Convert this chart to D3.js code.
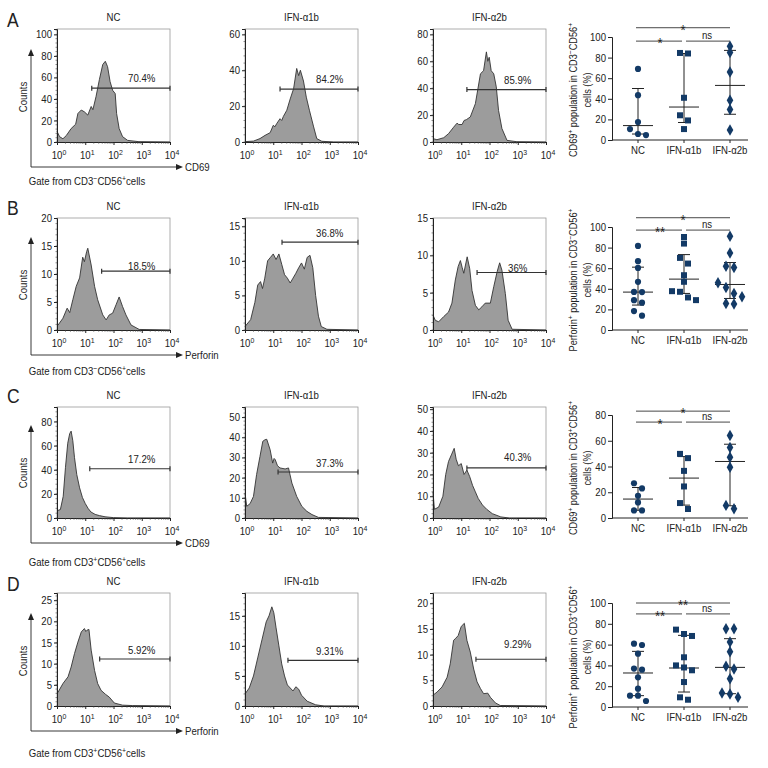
<!DOCTYPE html>
<html>
<head>
<meta charset="utf-8">
<script src="https://cdn.jsdelivr.net/npm/d3@7"></script>
<style>
  body { margin: 0; background: #fff; }
  svg text { fill: #222; }
</style>
</head>
<body>
<svg id="fig" width="768" height="768"></svg>
<script>
// ---- data ----
var rowLetters = ['A', 'B', 'C', 'D'];
var groups = ['NC', 'IFN-α1b', 'IFN-α2b'];
var markerNames = ['CD69', 'Perforin', 'CD69', 'Perforin'];
var gateTexts = ['Gate from CD3{−}CD56{+}cells', 'Gate from CD3{−}CD56{+}cells',
                 'Gate from CD3{+}CD56{+}cells', 'Gate from CD3{+}CD56{+}cells'];
var scatterLabels = ['CD69{+} population in CD3{−}CD56{+}', 'Perforin{+} population in CD3{−}CD56{+}',
                     'CD69{+} population in CD3{+}CD56{+}', 'Perforin{+} population in CD3{+}CD56{+}'];

// histograms: [log10 intensity, counts]
var histA_NC = [[0,10],[0.09,5],[0.21,3],[0.33,6],[0.5,12.5],[0.66,16.5],[0.74,26.5],[0.86,29.7],[0.97,28],[1.09,25],[1.21,33],[1.27,30],[1.38,42],[1.5,58],[1.62,72],[1.71,75],[1.79,70],[1.88,56],[1.97,48],[2.06,45],[2.11,26.5],[2.2,12.5],[2.32,5],[2.5,1.5],[2.9,0.3],[4,0]];
var histA_a1b = [[0,0.2],[0.3,0.5],[0.53,1.9],[0.71,3.7],[0.89,5.2],[1.0,9.3],[1.06,8.5],[1.12,10.2],[1.24,13],[1.3,12],[1.36,14.3],[1.48,17.7],[1.6,24],[1.72,29.7],[1.83,41],[1.9,37],[1.96,40],[2.07,34],[2.17,25],[2.28,17.7],[2.43,8.4],[2.54,1.9],[2.72,0.4],[3.14,0],[4,0]];
var histA_a2b = [[0,2.5],[0.14,1.7],[0.38,3.2],[0.55,6.2],[0.73,11],[0.85,14],[0.91,13],[1.03,13],[1.1,16],[1.18,16.6],[1.32,18.6],[1.5,28.5],[1.68,50.7],[1.79,53],[1.89,67],[1.94,60],[1.99,63],[2.06,53],[2.15,50.7],[2.24,41],[2.32,23.5],[2.44,10],[2.62,1.2],[2.97,0.2],[4,0]];
var histB_NC = [[0,0.9],[0.04,0.9],[0.21,2.1],[0.36,3.9],[0.45,3.1],[0.56,5.4],[0.68,7.8],[0.8,9.3],[0.91,13],[0.97,12.2],[1.05,14],[1.09,14.6],[1.21,11.6],[1.33,7.8],[1.44,5.4],[1.62,2.7],[1.74,1.8],[1.85,2.7],[1.97,3],[2.09,4.5],[2.2,5.9],[2.32,4.2],[2.44,2.7],[2.62,0.9],[2.91,0.1],[4,0]];
var histB_a1b = [[0,0.5],[0.2,1.5],[0.35,4],[0.45,6.5],[0.55,7],[0.62,6],[0.7,7.5],[0.8,10],[0.9,10.5],[1.0,11],[1.1,10.2],[1.2,11],[1.3,9.5],[1.4,8],[1.5,7.5],[1.6,6.8],[1.7,7.5],[1.8,8.2],[1.9,9],[2.0,9.7],[2.1,8.8],[2.2,10.5],[2.3,10.8],[2.4,9],[2.5,5],[2.6,2],[2.7,0.5],[2.9,0.1],[4,0]];
var histB_a2b = [[0,2],[0.08,1.3],[0.2,1.1],[0.38,1.8],[0.55,2.4],[0.67,3.6],[0.79,6.7],[0.89,8.5],[0.97,9.3],[1.03,8.4],[1.09,7.6],[1.21,9.8],[1.3,8.2],[1.38,5.3],[1.5,3.3],[1.62,2.7],[1.73,3.1],[1.85,3.6],[2.03,3.6],[2.15,5.8],[2.27,7.8],[2.36,9],[2.44,8],[2.56,4.9],[2.66,1.3],[2.8,0.1],[4,0]];
var histC_NC = [[0,6],[0.12,7],[0.22,18],[0.3,42],[0.38,62],[0.45,70],[0.5,72],[0.56,64],[0.62,50],[0.7,36],[0.8,25],[0.9,17],[1.0,12],[1.1,8],[1.2,5],[1.35,3],[1.5,2],[1.7,1],[2.0,0.3],[2.5,0],[4,0]];
var histC_a1b = [[0,12.4],[0.06,5.8],[0.18,7.1],[0.3,10.7],[0.41,21.5],[0.53,30.5],[0.63,38],[0.71,38.8],[0.77,39],[0.89,33.8],[0.98,27.2],[1.03,29.5],[1.07,28.9],[1.15,25.9],[1.24,24.8],[1.42,24.3],[1.54,24.8],[1.66,17.3],[1.83,10.7],[2.01,5.8],[2.19,3.3],[2.37,1.7],[2.6,0.3],[4,0]];
var histC_a2b = [[0,12],[0.05,4],[0.2,5],[0.35,10],[0.45,20],[0.55,26],[0.65,29],[0.75,32],[0.82,27],[0.9,24],[1.0,25],[1.1,20],[1.2,22],[1.3,19],[1.4,15],[1.5,12],[1.6,9],[1.75,6],[1.9,4],[2.1,2],[2.4,0.5],[2.7,0],[4,0]];
var histD_NC = [[0,3],[0.04,3.3],[0.21,5.3],[0.39,6.9],[0.5,9.2],[0.62,12.4],[0.74,15.1],[0.86,17.5],[0.97,18.3],[1.02,17.6],[1.06,17.9],[1.13,18.1],[1.21,13.2],[1.33,8.4],[1.44,5.3],[1.56,3.7],[1.71,2.8],[1.85,2.1],[2.03,0.7],[2.32,0.2],[2.67,0.1],[4,0]];
var histD_a1b = [[0,2],[0.15,3],[0.3,5],[0.45,8],[0.6,11],[0.75,14],[0.85,15],[0.95,16.5],[1.02,15.5],[1.1,13],[1.2,10],[1.3,7],[1.4,5],[1.5,3.5],[1.6,3],[1.7,2.5],[1.8,3.2],[1.9,2.8],[2.0,1.8],[2.2,0.8],[2.5,0.2],[2.8,0],[4,0]];
var histD_a2b = [[0,2.1],[0.14,2.7],[0.32,3.7],[0.5,5.6],[0.61,8.2],[0.73,12.8],[0.79,13.1],[0.89,13.7],[1.0,15.5],[1.11,16.1],[1.2,12.8],[1.32,10.5],[1.44,7.2],[1.56,4.7],[1.68,3.4],[1.79,2.4],[1.94,2.5],[2.03,1.7],[2.21,0.6],[2.38,0.1],[4,0]];

var histYMax = [[105, 63, 84], [20, 16.2, 15], [92, 55, 51], [26.7, 18.8, 22]];
var histYStep = [[20, 20, 20], [5, 5, 5], [20, 10, 10], [5, 5, 5]];
var gateStart = [[1.23, 1.24, 1.2], [1.58, 1.31, 1.56], [1.16, 1.17, 1.2], [1.51, 1.52, 1.52]];
var gateLevel = [[50, 29.5, 39], [10.5, 12.7, 7.7], [40.8, 22.8, 23], [11.1, 7.6, 9.1]];
var gatePct = [['70.4%', '84.2%', '85.9%'], ['18.5%', '36.8%', '36%'],
               ['17.2%', '37.3%', '40.3%'], ['5.92%', '9.31%', '9.29%']];

// scatter plots: values per group, median and interquartile bars
var scatA = [[69, 43.5, 17.4, 10.6, 5.8, 4.8], [84.5, 84, 41, 24, 19, 10.6], [91, 85, 66, 38.7, 29.7, 9.7]];
var medA = [14, 32, 53], loA = [5.8, 17, 25], hiA = [50, 84, 87];
var scatB = [[81.6, 66.8, 60.3, 46.8, 37, 36.8, 29, 26.5, 18.4, 13.9],
             [90.3, 83.9, 70, 64.5, 53.2, 46.8, 37.7, 37.1, 31.6, 29],
             [91, 74.8, 62, 60.6, 45.8, 41.3, 35.5, 32.3, 25.8, 25.2]];
var medB = [36.8, 49.4, 44.2], loB = [24.2, 35.5, 30.6], hiB = [61, 73.2, 65.5];
var scatC = [[27, 23, 17.3, 12.1, 5.9, 5.9], [49.8, 46.5, 36.6, 24.5, 11.6, 7], [64, 54.7, 47.2, 39.5, 9.8, 7.2]];
var medC = [14.7, 31, 43.9], loC = [6, 10, 9.5], hiC = [23.7, 47.7, 57.3];
var scatD = [[60.9, 59.6, 51.3, 36.9, 35.9, 28.5, 17.6, 10.9, 10.9, 5.8],
             [74.4, 70.2, 68.3, 47.8, 40, 38, 35.3, 24, 9.3, 7],
             [75.3, 75.3, 62.5, 53.2, 39.1, 36.5, 27.2, 13.5, 12.5, 9.3]];
var medD = [32.7, 37.5, 38.1], loD = [10.9, 14.4, 12.8], hiD = [53.5, 68.9, 65.7];
var scatYMax = [100, 100, 80, 100];
var sigTop = ['*', '*', '*', '**'], sigLeft = ['*', '**', '*', '**'], sigRight = ['ns', 'ns', 'ns', 'ns'];
var sigTopLevel = [109, 109, 83, 100], sigLowLevel = [96, 97, 74.5, 89.5];

var histData = [[histA_NC, histA_a1b, histA_a2b], [histB_NC, histB_a1b, histB_a2b],
                [histC_NC, histC_a1b, histC_a2b], [histD_NC, histD_a1b, histD_a2b]];
var scatData = [scatA, scatB, scatC, scatD];
var medData = [medA, medB, medC, medD], loData = [loA, loB, loC, loD], hiData = [hiA, hiB, hiC, hiD];

// ---- layout ----
var FONT = '"Liberation Sans", Arial, sans-serif';
var histLeft = [57, 245, 433], histW = 113;
var histTop = [29, 218, 407, 593], histBase = [142, 330, 518, 706];
var gateTextY = [185, 375, 566, 757];
var pctLift = [[6, 6, 6], [1, 5, 1], [6, 5, 7], [5, 5, 11]];
var scatBase = [140, 330, 518, 707], scatH = [103, 103, 103, 104];
var navy = '#133a66';

var svg = d3.select('#fig').attr('font-family', FONT);

// text with {superscript} parts
function rich(t, str) {
  var parts = str.split(/(\{[^}]*\})/).filter(function(s) { return s.length; });
  var up = false;
  parts.forEach(function(p) {
    var sup = p[0] === '{';
    var ts = t.append('tspan').text(sup ? p.slice(1, -1) : p);
    if (sup) { ts.attr('dy', -4).attr('font-size', '0.72em'); up = true; }
    else if (up) { ts.attr('dy', 4); up = false; }
  });
  return t;
}

function styleAxis(g) {
  g.attr('font-family', FONT).attr('font-size', 11);
  g.selectAll('path.domain').attr('stroke', '#222').attr('stroke-width', 1);
  g.selectAll('.tick line').attr('stroke', '#222');
  g.selectAll('.tick text').attr('fill', '#222');
}

function drawHist(r, c) {
  var g = svg.append('g');
  var left = histLeft[c], top = histTop[r], base = histBase[r];
  var x = d3.scaleLog().domain([1, 1e4]).range([left, left + histW]);
  var y = d3.scaleLinear().domain([0, histYMax[r][c]]).range([base, top]);
  var pts = histData[r][c];
  var px = function(d) { return x(Math.pow(10, d[0])); };

  g.append('rect').attr('x', left).attr('y', top).attr('width', histW).attr('height', base - top)
    .attr('fill', 'none').attr('stroke', '#9a9a9a').attr('stroke-width', 0.8);
  g.append('path').datum(pts)
    .attr('d', d3.area().x(px).y0(base).y1(function(d) { return y(d[1]); }))
    .attr('fill', '#9c9c9c');
  g.append('path').datum(pts)
    .attr('d', d3.line().x(px).y(function(d) { return y(d[1]); }))
    .attr('fill', 'none').attr('stroke', '#333').attr('stroke-width', 0.9);

  // y axis
  var ticks = d3.range(0, histYMax[r][c] + 0.001, histYStep[r][c]);
  var ya = g.append('g').attr('transform', 'translate(' + left + ',0)')
    .call(d3.axisLeft(y).tickValues(ticks).tickSize(3).tickPadding(2).tickFormat(d3.format('d')));
  styleAxis(ya);
  var minor = d3.range(0, histYMax[r][c], histYStep[r][c] / 5);
  g.selectAll('.ym').data(minor).enter().append('line')
    .attr('x1', left - 1.5).attr('x2', left).attr('y1', y).attr('y2', y)
    .attr('stroke', '#444').attr('stroke-width', 0.6);

  // x axis
  var xa = g.append('g').attr('transform', 'translate(0,' + base + ')')
    .call(d3.axisBottom(x).tickValues([1, 10, 100, 1000, 10000]).tickSize(3).tickFormat(''));
  styleAxis(xa);
  var mx = [];
  [1, 10, 100, 1000].forEach(function(k) { for (var m = 2; m < 10; m++) mx.push(m * k); });
  g.selectAll('.xm').data(mx).enter().append('line')
    .attr('x1', x).attr('x2', x).attr('y1', base).attr('y2', base + 1.8)
    .attr('stroke', '#444').attr('stroke-width', 0.6);
  [0, 1, 2, 3, 4].forEach(function(e) {
    var t = g.append('text').attr('x', x(Math.pow(10, e)) + 2).attr('y', base + 17)
      .attr('text-anchor', 'middle').attr('font-size', 11);
    rich(t, '10{' + e + '}');
  });

  // title
  g.append('text').attr('x', left + histW / 2).attr('y', top - 8).attr('text-anchor', 'middle')
    .attr('font-size', 11).text(groups[c]);

  // gate
  var gy = y(gateLevel[r][c]), gx0 = x(Math.pow(10, gateStart[r][c])), gx1 = x(1e4);
  g.append('line').attr('x1', gx0).attr('x2', gx1).attr('y1', gy).attr('y2', gy)
    .attr('stroke', '#333').attr('stroke-width', 1.2);
  [gx0, gx1].forEach(function(v) {
    g.append('line').attr('x1', v).attr('x2', v).attr('y1', gy - 2.5).attr('y2', gy + 2.5)
      .attr('stroke', '#333').attr('stroke-width', 1.2);
  });
  g.append('text').attr('x', x(1000)).attr('y', gy - pctLift[r][c]).attr('text-anchor', 'middle')
    .attr('font-size', 11).text(gatePct[r][c]);
}

function drawRowFrame(r) {
  var base = histBase[r];
  var g = svg.append('g');
  g.append('text').attr('x', 7).attr('y', base - 115).attr('font-size', 20).text(rowLetters[r]);
  // arrows
  var ax = 31, ay = base + 25;
  g.append('line').attr('x1', ax).attr('x2', ax).attr('y1', ay).attr('y2', base - 88)
    .attr('stroke', '#222').attr('stroke-width', 0.9);
  g.append('path').attr('d', 'M' + ax + ',' + (base - 93) + 'l-3,7h6z').attr('fill', '#222');
  g.append('line').attr('x1', ax).attr('x2', 178).attr('y1', ay).attr('y2', ay)
    .attr('stroke', '#222').attr('stroke-width', 0.9);
  g.append('path').attr('d', 'M183,' + ay + 'l-7,-3v6z').attr('fill', '#222');
  g.append('text').attr('x', 185).attr('y', ay + 4).attr('font-size', 11).text(markerNames[r]);
  g.append('text').attr('transform', 'translate(27,' + (base - 45) + ') rotate(-90)')
    .attr('text-anchor', 'middle').attr('font-size', 11).text('Counts');
  rich(g.append('text').attr('x', 87).attr('y', gateTextY[r]).attr('text-anchor', 'middle')
    .attr('font-size', 11), gateTexts[r]);
}

function drawScatter(r) {
  var g = svg.append('g');
  var base = scatBase[r], top = base - scatH[r];
  var axisX = 612;
  var y = d3.scaleLinear().domain([0, scatYMax[r]]).range([base, top]);
  var x = d3.scalePoint().domain(groups).range([638, 730]);

  var ya = g.append('g').attr('transform', 'translate(' + axisX + ',0)')
    .call(d3.axisLeft(y).tickValues(d3.range(0, scatYMax[r] + 1, 20)).tickSize(4).tickPadding(2));
  styleAxis(ya);
  g.append('line').attr('x1', axisX).attr('x2', 748).attr('y1', base).attr('y2', base)
    .attr('stroke', '#222');
  groups.forEach(function(gr) {
    g.append('line').attr('x1', x(gr)).attr('x2', x(gr)).attr('y1', base).attr('y2', base + 3)
      .attr('stroke', '#222');
    g.append('text').attr('x', x(gr)).attr('y', base + 14).attr('text-anchor', 'middle')
      .attr('font-size', 11).text(gr);
  });

  // y label
  var lab = g.append('text').attr('transform', 'translate(577,' + (base - 50) + ') rotate(-90)')
    .attr('text-anchor', 'middle').attr('font-size', 10.5);
  rich(lab, scatterLabels[r]);
  g.append('text').attr('transform', 'translate(591,' + (base - 50) + ') rotate(-90)')
    .attr('text-anchor', 'middle').attr('font-size', 10.5).text('cells (%)');

  var shapes = [d3.symbolCircle, d3.symbolSquare, d3.symbolDiamond];
  var sizes = [30, 36, 38];
  groups.forEach(function(gr, i) {
    var cx = x(gr);
    // error bars: median + interquartile range
    g.append('line').attr('x1', cx).attr('x2', cx)
      .attr('y1', y(loData[r][i])).attr('y2', y(hiData[r][i])).attr('stroke', '#222');
    [loData[r][i], hiData[r][i]].forEach(function(v) {
      g.append('line').attr('x1', cx - 6).attr('x2', cx + 6).attr('y1', y(v)).attr('y2', y(v))
        .attr('stroke', '#222');
    });
    g.append('line').attr('x1', cx - 15).attr('x2', cx + 15)
      .attr('y1', y(medData[r][i])).attr('y2', y(medData[r][i])).attr('stroke', '#222');

    // spread points that would overlap
    var pts = scatData[r][i].map(function(v) { return { v: v, py: y(v) }; })
      .sort(function(a, b) { return a.py - b.py; });
    var clusters = [], cur = [];
    pts.forEach(function(p) {
      if (cur.length && p.py - cur[cur.length - 1].py >= 6) { clusters.push(cur); cur = []; }
      cur.push(p);
    });
    if (cur.length) clusters.push(cur);
    clusters.forEach(function(cl) {
      cl.forEach(function(p, k) { p.px = cx + (k - (cl.length - 1) / 2) * 8; });
    });
    g.selectAll('.pt' + i).data(pts).enter().append('path')
      .attr('d', d3.symbol().type(shapes[i]).size(sizes[i]))
      .attr('transform', function(d) { return 'translate(' + d.px + ',' + d.py + ')'; })
      .attr('fill', navy);
  });

  // significance brackets
  var yt = y(sigTopLevel[r]), yl = y(sigLowLevel[r]);
  var x0 = x(groups[0]) - 2, x1 = x(groups[1]), x2 = x(groups[2]);
  var seg = function(a, b, yy) {
    g.append('line').attr('x1', a).attr('x2', b).attr('y1', yy).attr('y2', yy)
      .attr('stroke', '#333').attr('stroke-width', 0.9);
  };
  seg(x0, x2, yt);
  seg(x0, x1 - 2, yl);
  seg(x1 + 2, x2, yl);
  g.append('text').attr('x', (x0 + x2) / 2).attr('y', yt + 7).attr('text-anchor', 'middle')
    .attr('font-size', 15).text(sigTop[r]);
  g.append('text').attr('x', (x0 + x1) / 2).attr('y', yl + 7).attr('text-anchor', 'middle')
    .attr('font-size', 15).text(sigLeft[r]);
  g.append('text').attr('x', (x1 + x2) / 2).attr('y', yl - 2).attr('text-anchor', 'middle')
    .attr('font-size', 11).text(sigRight[r]);
}

for (var r = 0; r < 4; r++) {
  drawRowFrame(r);
  for (var c = 0; c < 3; c++) drawHist(r, c);
  drawScatter(r);
}

// the original uses a condensed face: narrow every label around its anchor
// so that "IFN-α1b" is as wide as in the figure
var probe = svg.append('text').attr('font-size', 11).text('IFN-α1b');
var squeeze = 35 / probe.node().getComputedTextLength();
probe.remove();
svg.selectAll('text').each(function() {
  var t = d3.select(this);
  var ax = +t.attr('x') || 0, ay = +t.attr('y') || 0;
  var prev = t.attr('transform') || '';
  t.attr('transform', prev + ' translate(' + ax + ',' + ay + ') scale(' + squeeze + ',1) translate(' + (-ax) + ',' + (-ay) + ')');
});
</script>
</body>
</html>
